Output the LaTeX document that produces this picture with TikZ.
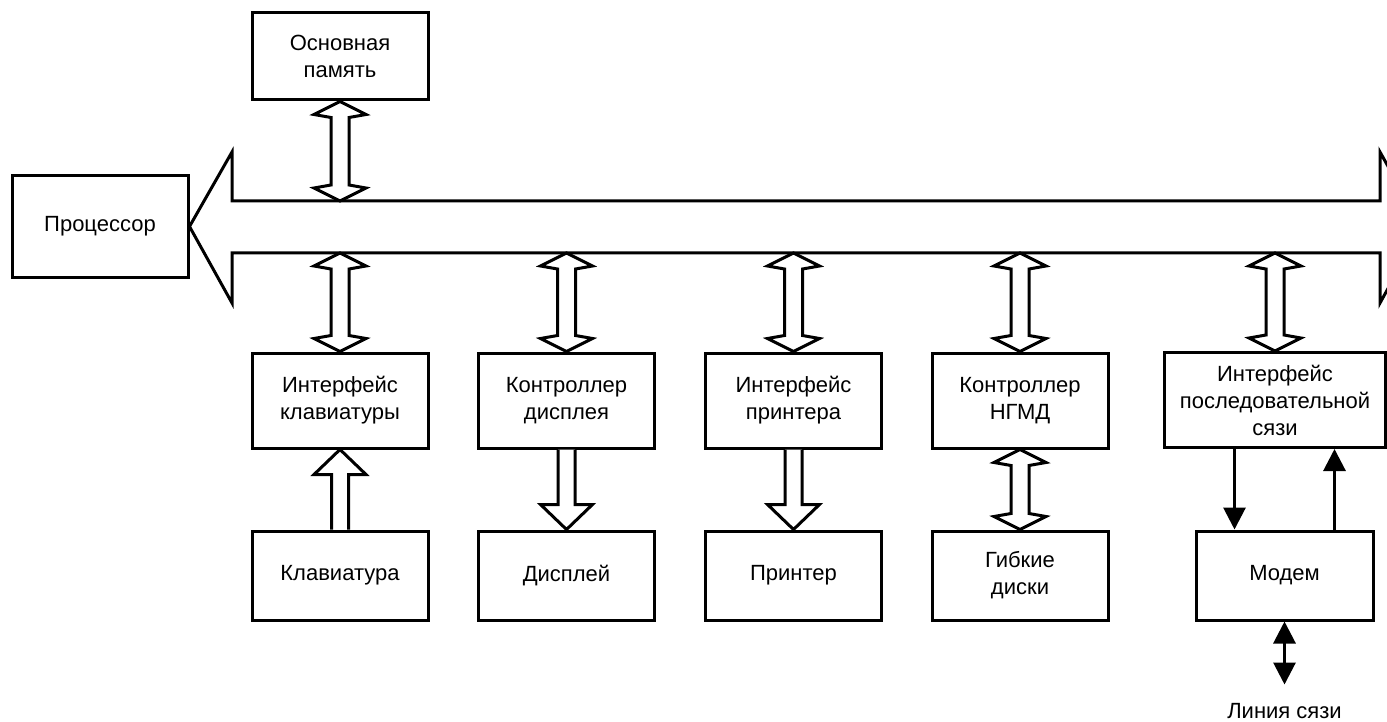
\documentclass[tikz,border=0pt]{standalone}
\usepackage{fontspec}
\setmainfont{Liberation Sans}
\usetikzlibrary{calc,arrows.meta}

% hollow block arrows (vertical): both heads, head down, head up
\newcommand\blockboth[2]{\draw[hollow] (#1) -- ++(-26pt,-13pt) -- ++(17pt,-3pt)
  -- ($(#2)+(-9pt,16pt)$) -- ++(-17pt,-3pt) -- (#2) -- ++(26pt,13pt) -- ++(-17pt,3pt)
  -- ($(#1)+(9pt,-16pt)$) -- ++(17pt,3pt) -- cycle;}
\newcommand\blockdown[2]{\draw[hollow] ($(#1)+(-8.5pt,0)$) -- ($(#2)+(-8.5pt,25pt)$)
  -- ++(-17.5pt,0) -- (#2) -- ++(26pt,25pt) -- ++(-17.5pt,0) -- ($(#1)+(8.5pt,0)$);}
\newcommand\blockup[2]{\draw[hollow] ($(#2)+(-8.5pt,0)$) -- ($(#1)+(-8.5pt,-25pt)$)
  -- ++(-17.5pt,0) -- (#1) -- ++(26pt,-25pt) -- ++(-17.5pt,0) -- ($(#2)+(8.5pt,0)$);}

\begin{document}
\begin{tikzpicture}[x=1pt,y=-1pt,
  box/.style={draw,line width=3pt,fill=white,align=center,inner sep=0pt,
    font=\fontsize{22pt}{27pt}\selectfont,minimum width=176pt},
  ifbox/.style={box,minimum height=95pt},
  devbox/.style={box,minimum height=89pt},
  hollow/.style={draw,line width=3pt,fill=white,line join=miter},
  tri/.tip={Triangle[length=22pt,width=22pt]},
  signal/.style={line width=3pt,-tri}]
\useasboundingbox (0,0) rectangle (1387,722);
\clip (0,0) rectangle (1387,722);

% processor, memory
\node[box,minimum height=101pt] (proc) at (100,226.5) {Процессор};
\node[box,minimum height=87pt] (mem) at (340,56.5) {Основная\\память};

% system bus (double-headed wide arrow, right head runs off the edge)
\coordinate (bustop) at (0,201);
\coordinate (busbot) at (0,253);
\draw[hollow] (proc.east) -- (232,152) -- (232,201) -- (1380,201) -- (1380,152)
  -- (1422,227) -- (1380,303) -- (1380,253) -- (232,253) -- (232,303) -- cycle;

% interfaces and controllers
\node[ifbox] (if1) at (340,400.5) {Интерфейс\\клавиатуры};
\node[ifbox] (if2) at (566.5,400.5) {Контроллер\\дисплея};
\node[ifbox] (if3) at (793.5,400.5) {Интерфейс\\принтера};
\node[ifbox] (if4) at (1020,400.5) {Контроллер\\НГМД};
\node[ifbox,minimum width=221pt] (if5) at (1275,400) {Интерфейс\\последовательной\\сязи};

% devices
\node[devbox] (kb) at (340,575.5) {Клавиатура};
\node[devbox] (disp) at (566.5,575.5) {Дисплей};
\node[devbox] (prn) at (793.5,575.5) {Принтер};
\node[devbox] (fdd) at (1020,575.5) {Гибкие\\диски};
\node[devbox,minimum width=177pt] (modem) at (1284.5,575.5) {Модем};

% bus links
\coordinate (m0) at (mem.south |- bustop);
\blockboth{mem.south}{m0}
\foreach \n in {if1,if2,if3,if4,if5}{
  \coordinate (b\n) at (\n.north |- busbot);
  \blockboth{b\n}{\n.north}
}

% device links
\blockup{if1.south}{kb.north}
\blockdown{if2.south}{disp.north}
\blockdown{if3.south}{prn.north}
\blockboth{if4.south}{fdd.north}

% modem links
\coordinate (mdl) at ([xshift=-50pt]modem.north);
\coordinate (mdr) at ([xshift=50pt]modem.north);
\coordinate (ifl) at (mdl |- if5.south);
\coordinate (ifr) at (mdr |- if5.south);
\draw[signal] (ifl) -- (mdl);
\draw[signal] (mdr) -- (ifr);

\coordinate (lineend) at ([yshift=-63pt]modem.south);
\draw[line width=3pt,tri-tri] (modem.south) -- (lineend);
\node[font=\fontsize{22pt}{27pt}\selectfont,anchor=base] (line) at ([yshift=-34pt]lineend) {Линия сязи};
\end{tikzpicture}
\end{document}
